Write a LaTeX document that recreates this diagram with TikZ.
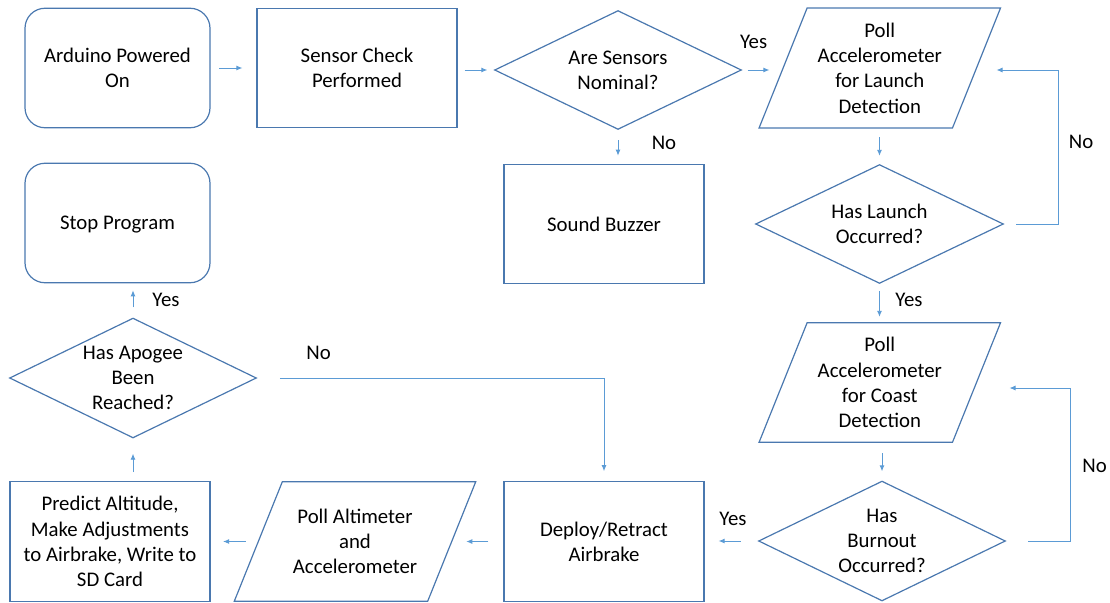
\documentclass[tikz,border=0pt]{standalone}
\usepackage{fontspec}
\setmainfont{Carlito}
\usetikzlibrary{arrows.meta,calc}
\definecolor{shpblue}{HTML}{4A78AF}
\definecolor{arrblue}{HTML}{5B9BD5}
\tikzset{
  txt/.style={inner sep=0pt, align=center, font=\fontsize{20.8}{25.3}\selectfont, text=black},
  boxnode/.style={txt, draw=shpblue, line width=1.2pt, minimum width=#1, minimum height=119.5pt},
  rbox/.style={boxnode=#1, rounded corners=20pt},
  hid/.style={txt, minimum width=#1, minimum height=119pt},
  shp/.style={draw=shpblue, line width=1.2pt, line join=miter},
  arr/.style={draw=arrblue, line width=0.9pt, -{Latex[length=6pt,width=5pt]}},
  lbl/.style={txt},
}
\begin{document}
\begin{tikzpicture}[x=1pt,y=-1pt]
\useasboundingbox (0,0) rectangle (1110,602);
% ---- nodes
\node[rbox=185pt] (ard) at (117.5,68) {Arduino Powered\\On};
\node[boxnode=200pt] (sen) at (357,68) {Sensor Check\\Performed};
\node[hid=246pt, minimum height=118pt] (d1) at (618,70) {Are Sensors\\Nominal?};
\draw[shp] (d1.north) -- (d1.east) -- (d1.south) -- (d1.west) -- cycle;
\node[boxnode=200pt] (snd) at (604,224) {Sound Buzzer};
\node[rbox=185pt] (stop) at (117.5,223) {\rule[-7pt]{0pt}{27pt}Stop Program};
\node[hid=193pt, minimum height=119.5pt] (p1) at (879.8,68) {Poll\\Accelerometer\\for Launch\\Detection};
\draw[shp] ([xshift=-24pt]p1.south west) -- ([xshift=-24pt]p1.south east) -- ([xshift=24pt]p1.north east) -- ([xshift=24pt]p1.north west) -- cycle;
\node[hid=247pt, minimum height=118pt] (d2) at (879.5,224) {Has Launch\\Occurred?};
\draw[shp] (d2.north) -- (d2.east) -- (d2.south) -- (d2.west) -- cycle;
\node[hid=193pt, minimum height=119pt] (p2) at (879.8,382.5) {Poll\\Accelerometer\\for Coast\\Detection};
\draw[shp] ([xshift=-24pt]p2.south west) -- ([xshift=-24pt]p2.south east) -- ([xshift=24pt]p2.north east) -- ([xshift=24pt]p2.north west) -- cycle;
\node[hid=246pt, minimum height=119pt] (d4) at (882,541) {Has\\Burnout\\Occurred?};
\draw[shp] (d4.north) -- (d4.east) -- (d4.south) -- (d4.west) -- cycle;
\node[boxnode=200pt] (dep) at (604,541.5) {Deploy/Retract\\Airbrake};
\node[hid=193pt, minimum height=119pt] (p3) at (355,541.5) {Poll Altimeter\\and\\Accelerometer};
\draw[shp] ([xshift=-24pt]p3.south west) -- ([xshift=-24pt]p3.south east) -- ([xshift=24pt]p3.north east) -- ([xshift=24pt]p3.north west) -- cycle;
\node[boxnode=200pt] (pred) at (110,541.5) {Predict Altitude,\\Make Adjustments\\to Airbrake, Write to\\SD Card};
\node[hid=246pt, minimum height=119pt] (d3) at (133,378) {Has Apogee\\Been\\Reached?};
\draw[shp] (d3.north) -- (d3.east) -- (d3.south) -- (d3.west) -- cycle;
% ---- helper coordinates
\coordinate (r1) at (1058,70);
\coordinate (r2) at (1070,388);
% ---- connectors
\draw[arr, shorten <=8.6pt, shorten >=14pt] (ard.east) -- (sen.west);
\draw[arr, shorten <=7pt, shorten >=7.5pt] (sen.east |- d1.west) -- (d1.west);
\draw[arr, shorten <=6.5pt, shorten >=13.7pt] (d1.east) -- (d1.east -| p1.west);
\draw[arr, shorten <=11pt, shorten >=8pt] (d1.south) -- (d1.south |- snd.north);
\draw[arr, shorten <=9.3pt, shorten >=9pt] (d2.north |- p1.south) -- (d2.north);
\draw[arr, shorten <=13pt, shorten >=20pt] (d2.east) -| (r1) -- (r1 -| p1.east);
\draw[arr, shorten <=8pt, shorten >=6pt] (d2.south) -- (d2.south |- p2.north);
\draw[arr, shorten <=11pt, shorten >=10pt] (d4.north |- p2.south) -- (d4.north);
\draw[arr, shorten <=18pt, shorten >=14pt] (d4.west) -- (d4.west -| dep.east);
\draw[arr, shorten <=23pt, shorten >=33pt] (d4.east) -| (r2) -- (r2 -| p2.east);
\draw[arr, shorten <=15pt, shorten >=14.6pt] (dep.west) -- (dep.west -| p3.east);
\draw[arr, shorten <=12.5pt, shorten >=12.5pt] (p3.west) -- (p3.west -| pred.east);
\draw[arr, shorten <=9pt, shorten >=16pt] (d3.south |- pred.north) -- (d3.south);
\draw[arr, shorten <=11pt, shorten >=7pt] (d3.north) -- (d3.north |- stop.south);
\draw[arr, shorten <=23.6pt, shorten >=10pt] (d3.east) -| (dep.north);
% ---- labels
\node[lbl] (ly1) at (753.6,42) {Yes};
\node[lbl] (ln1) at (664,143) {No};
\node[lbl] (ln2) at (1081,142) {No};
\node[lbl] (ly2) at (909,300) {Yes};
\node[lbl] (ln3) at (1094.6,466) {No};
\node[lbl] (ly3) at (733,519) {Yes};
\node[lbl] (ln4) at (318.6,353) {No};
\node[lbl] (ly4) at (166,300) {Yes};
\end{tikzpicture}
\end{document}
